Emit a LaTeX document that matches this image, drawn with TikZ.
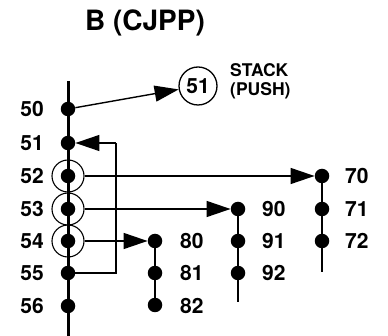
\documentclass[tikz,border=0pt]{standalone}
\usepackage{fontspec}
\setmainfont{TeX Gyre Heros}
\usetikzlibrary{arrows.meta}
\begin{document}
\begin{tikzpicture}[x=1pt,y=-1pt,
  dot/.style={circle,fill=black,inner sep=0pt,minimum size=14.5pt},
  ring/.style={circle,draw,line width=1.1pt,inner sep=0pt,minimum size=32pt},
  lbl/.style={font=\fontsize{21}{21}\selectfont\bfseries,inner sep=0pt},
  spine/.style={line width=3pt},
  chain/.style={line width=2.5pt},
  conn/.style={line width=1.4pt,-{Triangle[length=24pt,width=16pt]}},
  plain/.style={line width=1.4pt}]
\useasboundingbox (0,0) rectangle (388,336);
% title
\node[font=\fontsize{28}{28}\selectfont\bfseries] (title) at (145,23) {B (CJPP)};
% main spine
\coordinate (top) at (68,81);
\coordinate (bot) at (68,336);
\draw[spine] (top) -- (bot);
% chain tails
\coordinate (t70) at (322,272);
\coordinate (t90) at (238,302);
\draw[chain] (322,178) -- (t70);
\draw[chain] (238,209) -- (t90);
\draw[chain] (155,241) -- (155,305);
% main dots
\node[dot] (d50) at (68,109) {};
\node[dot] (d51) at (68,143) {};
\node[dot] (d52) at (68,176) {};
\node[dot] (d53) at (68,209) {};
\node[dot] (d54) at (68,241) {};
\node[dot] (d55) at (68,273) {};
\node[dot] (d56) at (68,306) {};
\node[ring] (c52) at (68,176) {};
\node[ring] (c53) at (68,209) {};
\node[ring] (c54) at (68,241) {};
% right dots
\node[dot] (d70) at (322,176) {};
\node[dot] (d71) at (322,209) {};
\node[dot] (d72) at (322,241) {};
\node[dot] (d90) at (238,209) {};
\node[dot] (d91) at (238,241) {};
\node[dot] (d92) at (238,273) {};
\node[dot] (d80) at (155,241) {};
\node[dot] (d81) at (155,273) {};
\node[dot] (d82) at (155,305) {};
% stack
\node[circle,draw,line width=1.3pt,minimum size=38pt,inner sep=0pt,lbl] (stack) at (198,86) {51};
\node[font=\fontsize{17.5}{19}\selectfont\bfseries,align=left,anchor=north west,inner sep=0pt] (stacktxt) at (230,63) {STACK\\(PUSH)};
% connectors
\draw[conn] (d50) -- (stack);
\coordinate (fb) at (116,143);
\draw[plain] (d55.center) -| (fb);
\draw[conn] (fb) -- (d51);
\draw[conn] (c52) -- (d70);
\draw[conn] (c53) -- (d90);
\draw[conn] (c54) -- (d80);
% left labels
\foreach \n/\y in {50/109,51/143,52/176,53/209,54/241,55/273,56/306}
  \node[lbl,anchor=east] (l\n) at (44,\y) {\n};
% right labels
\foreach \n/\x/\y in {70/345/176,71/345/209,72/345/241,90/262/209,91/262/241,92/262/273,80/180/241,81/180/273,82/180/306}
  \node[lbl,anchor=west] (l\n) at (\x,\y) {\n};
\end{tikzpicture}
\end{document}
